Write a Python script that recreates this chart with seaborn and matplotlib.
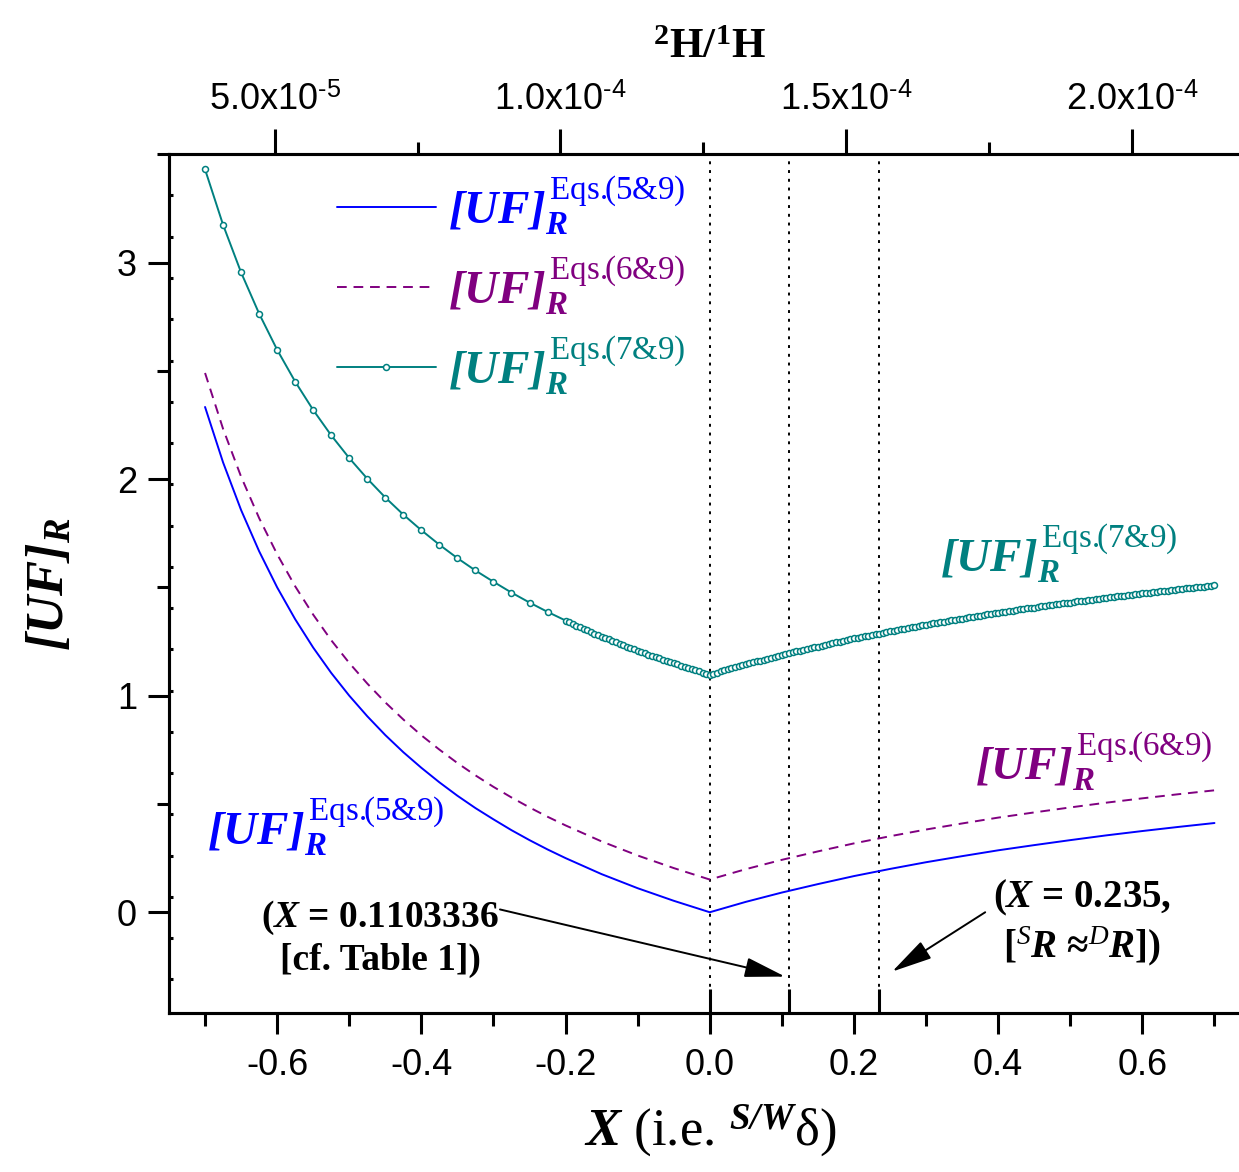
import numpy as np
import seaborn as sns
import matplotlib.pyplot as plt
from matplotlib.ticker import MultipleLocator, FixedLocator, FuncFormatter

# X (i.e. S/W delta) grid of the two plain curves
x_line = [-0.700, -0.675, -0.650, -0.625, -0.600, -0.575, -0.550, -0.525, -0.500, -0.475,
          -0.450, -0.425, -0.400, -0.375, -0.350, -0.325, -0.300, -0.275, -0.250, -0.225,
          -0.200, -0.150, -0.100, -0.050, 0.000, 0.050, 0.100, 0.150, 0.200, 0.250,
          0.300, 0.350, 0.400, 0.450, 0.500, 0.550, 0.600, 0.650, 0.700]

# [UF]_R from Eqs.(5&9)
uf_eq5 = [2.333, 2.077, 1.857, 1.667, 1.500, 1.353, 1.222, 1.105, 1.000, 0.905,
          0.818, 0.739, 0.667, 0.600, 0.538, 0.481, 0.429, 0.379, 0.333, 0.290,
          0.250, 0.176, 0.111, 0.053, 0.000, 0.048, 0.091, 0.130, 0.167, 0.200,
          0.231, 0.259, 0.286, 0.310, 0.333, 0.355, 0.375, 0.394, 0.412]

# [UF]_R from Eqs.(6&9)
uf_eq6 = [2.490, 2.232, 2.011, 1.820, 1.653, 1.505, 1.374, 1.256, 1.151, 1.056,
          0.969, 0.890, 0.817, 0.751, 0.689, 0.632, 0.579, 0.530, 0.484, 0.441,
          0.401, 0.327, 0.262, 0.204, 0.151, 0.199, 0.242, 0.281, 0.318, 0.351,
          0.382, 0.410, 0.437, 0.461, 0.484, 0.506, 0.526, 0.545, 0.563]

# Eqs.(7&9) points (coarse on the far left, dense from -0.2 on)
x_eq7 = ([-0.700, -0.675, -0.650, -0.625, -0.600, -0.575, -0.550, -0.525, -0.500, -0.475,
          -0.450, -0.425, -0.400, -0.375, -0.350, -0.325, -0.300, -0.275, -0.250, -0.225]
         + [round(-0.200 + 0.005 * i, 3) for i in range(181)])

uf_eq7 = [3.430, 3.174, 2.954, 2.764, 2.597, 2.450, 2.319, 2.202, 2.097, 2.002,
          1.915, 1.836, 1.764, 1.697, 1.635, 1.578, 1.526, 1.476, 1.430, 1.387,
          # -0.200 ... 0.000
          1.347, 1.339, 1.332, 1.324, 1.317, 1.309, 1.302, 1.295, 1.287, 1.280,
          1.273, 1.267, 1.260, 1.253, 1.246, 1.240, 1.233, 1.227, 1.221, 1.214,
          1.208, 1.202, 1.196, 1.190, 1.184, 1.178, 1.172, 1.167, 1.161, 1.155,
          1.150, 1.144, 1.139, 1.133, 1.128, 1.123, 1.117, 1.112, 1.107, 1.102,
          1.097,
          # 0.005 ... 0.700
          1.102, 1.107, 1.112, 1.117, 1.121, 1.126, 1.131, 1.135, 1.140, 1.145,
          1.149, 1.154, 1.158, 1.162, 1.167, 1.171, 1.175, 1.180, 1.184, 1.188,
          1.192, 1.196, 1.200, 1.204, 1.208, 1.212, 1.216, 1.220, 1.224, 1.227,
          1.231, 1.235, 1.239, 1.242, 1.246, 1.250, 1.253, 1.257, 1.260, 1.264,
          1.267, 1.271, 1.274, 1.277, 1.281, 1.284, 1.287, 1.291, 1.294, 1.297,
          1.300, 1.303, 1.306, 1.310, 1.313, 1.316, 1.319, 1.322, 1.325, 1.328,
          1.331, 1.334, 1.337, 1.339, 1.342, 1.345, 1.348, 1.351, 1.354, 1.356,
          1.359, 1.362, 1.364, 1.367, 1.370, 1.372, 1.375, 1.378, 1.380, 1.383,
          1.385, 1.388, 1.390, 1.393, 1.395, 1.398, 1.400, 1.403, 1.405, 1.407,
          1.410, 1.412, 1.414, 1.417, 1.419, 1.421, 1.424, 1.426, 1.428, 1.430,
          1.433, 1.435, 1.437, 1.439, 1.441, 1.443, 1.446, 1.448, 1.450, 1.452,
          1.454, 1.456, 1.458, 1.460, 1.462, 1.464, 1.466, 1.468, 1.470, 1.472,
          1.474, 1.476, 1.478, 1.480, 1.482, 1.484, 1.485, 1.487, 1.489, 1.491,
          1.493, 1.495, 1.496, 1.498, 1.500, 1.502, 1.504, 1.505, 1.507, 1.509]

marked_x = [0.0, 0.1103336, 0.235]
ratio_ticks = [5.0e-5, 1.0e-4, 1.5e-4, 2.0e-4]
r_ref = 1.5576e-4 / 1.235   # 2H/1H at X = 0 (X = 0.235 is VSMOW)

BLUE, PURPLE, TEAL = '#0000ff', '#800080', '#008080'
SERIF = 'Liberation Serif'

sns.set_theme(style='ticks')
plt.rcParams['font.family'] = ['Liberation Sans', 'DejaVu Sans']
plt.rcParams.update({
    'axes.unicode_minus': False,
    'mathtext.fontset': 'custom',
    'mathtext.rm': SERIF,
    'mathtext.it': SERIF + ':italic',
    'mathtext.bf': SERIF + ':bold',
    'mathtext.bfit': SERIF + ':italic:bold',
    'axes.linewidth': 2.2,
    'axes.edgecolor': 'black',
    'text.color': 'black',
    'axes.labelcolor': 'black',
    'xtick.color': 'black',
    'ytick.color': 'black',
})

fig = plt.figure(figsize=(12.39, 11.72), dpi=100)
ax = fig.add_axes([0.1364, 0.1357, 0.8729, 0.7327])


def uf_label(eqs):
    return (r'$\mathbfit{[UF]}_{\mathbfit{R}}^{\,\mathrm{Eqs.}\!\!\mathrm{(' + eqs
            + r')}}$')


sns.lineplot(x=x_line, y=uf_eq5, ax=ax, color=BLUE, lw=1.4, label=uf_label('5&9'))
sns.lineplot(x=x_line, y=uf_eq6, ax=ax, color=PURPLE, lw=1.4, linestyle=(0, (5, 3.5)),
             label=uf_label('6&9'))
sns.lineplot(x=x_eq7, y=uf_eq7, ax=ax, color=TEAL, lw=1.4, marker='o', markersize=4.3,
             markerfacecolor='white', markeredgecolor=TEAL, markeredgewidth=1.1,
             label=uf_label('7&9'))

for xv in marked_x:
    ax.axvline(xv, color='black', lw=1.4, ls=(0, (1.5, 3)), zorder=1)

ax.set_xlim(-0.75, 0.75)
ax.set_ylim(-0.465, 3.5)
ax.spines['right'].set_visible(False)

ax.xaxis.set_major_locator(MultipleLocator(0.2))
ax.xaxis.set_minor_locator(MultipleLocator(0.1))
ax.yaxis.set_major_locator(MultipleLocator(1))
ax.yaxis.set_minor_locator(MultipleLocator(0.5))
ax.xaxis.set_major_formatter(FuncFormatter(lambda v, p: f'{v:.1f}'))
ax.yaxis.set_major_formatter(FuncFormatter(lambda v, p: f'{v:.0f}'))
ax.tick_params(which='major', direction='out', length=15, width=2.2, labelsize=26,
               color='black', labelcolor='black')
ax.tick_params(which='minor', direction='out', length=9, width=2.2, color='black')
ax.tick_params(axis='x', which='major', pad=10)
ax.tick_params(axis='y', which='major', pad=8)
ax.tick_params(top=False, right=False, which='both')

# small inner ticks along the left axis
sec_y = ax.secondary_yaxis('left')
sec_y.set_yticks(np.arange(-0.31, 3.4, 0.1905))
sec_y.tick_params(direction='in', length=3, width=2.2, labelleft=False, color='black')

# inner ticks under the marked X values
sec_x = ax.secondary_xaxis('bottom')
sec_x.set_xticks(marked_x)
sec_x.tick_params(direction='in', length=17, width=2.2, labelbottom=False, color='black')


def ratio_fmt(v, pos):
    if v <= 0:
        return ''
    e = int(np.floor(np.log10(v) + 1e-9))
    m = v / 10 ** e
    return f'{m:.1f}x10' + r'$^{\mathregular{' + '\u2010' + str(abs(e)) + '}}$'


top = ax.secondary_xaxis('top', functions=(lambda x: r_ref * (1 + x), lambda r: r / r_ref - 1))
top.xaxis.set_major_locator(FixedLocator(ratio_ticks))
top.xaxis.set_minor_locator(FixedLocator([7.5e-5, 1.25e-4, 1.75e-4]))
top.xaxis.set_major_formatter(FuncFormatter(ratio_fmt))
top.tick_params(which='major', direction='out', length=18, width=2.2, labelsize=26, pad=8,
                color='black', labelcolor='black')
top.tick_params(which='minor', direction='out', length=9, width=2.2, color='black')
top.set_xlabel(r'$^{\mathbf{2}}$H/$^{\mathbf{1}}$H', family=SERIF, fontweight='bold',
               fontsize=31, labelpad=18)

for a in (ax, sec_y, sec_x, top):
    for sp in a.spines.values():
        sp.set_linewidth(2.2)

ax.set_xlabel(r'$\mathbfit{X}$ (i.e. ${}^{\mathbfit{S/W}}$δ)', family=SERIF, fontsize=38,
              labelpad=14)
ax.set_ylabel(r'$\mathbfit{[UF]}_{\mathbfit{R}}$', family=SERIF, fontsize=38, labelpad=30)

leg = ax.legend(loc='upper left', bbox_to_anchor=(0.155, 0.977), frameon=False, fontsize=34,
                handlelength=2.1, handletextpad=0.25, labelspacing=0.37, borderaxespad=0,
                borderpad=0, numpoints=1)
for text, line in zip(leg.get_texts(), leg.get_lines()):
    text.set_color(line.get_color())

# labels next to the curves
ax.text(0.32, 1.57, uf_label('7&9'), color=TEAL, fontsize=34, ha='left', va='baseline')
ax.text(0.368, 0.61, uf_label('6&9'), color=PURPLE, fontsize=34, ha='left', va='baseline')
ax.text(-0.697, 0.31, uf_label('5&9'), color=BLUE, fontsize=34, ha='left', va='baseline')

# annotations for the marked X values
ax.text(-0.457, -0.12, '(' + r'$\mathbfit{X}$' + ' = 0.1103336\n[cf. Table 1])',
        family=SERIF, fontweight='bold', fontsize=27, ha='center', va='center',
        linespacing=1.2)
ax.annotate('', xy=(0.1044, -0.297), xytext=(-0.291, 0.013),
            arrowprops=dict(arrowstyle='-|>,head_length=0.9,head_width=0.22', color='black',
                            lw=1.4, mutation_scale=28, shrinkA=0, shrinkB=0))
ax.text(0.516, -0.05, '(' + r'$\mathbfit{X}$' + ' = 0.235,\n['
        + r'$^{\mathit{S}}\mathbfit{R}$' + ' ≈' + r'$^{\mathit{D}}\mathbfit{R}$' + '])',
        family=SERIF, fontweight='bold', fontsize=28, ha='center', va='center',
        linespacing=1.2)
ax.annotate('', xy=(0.253, -0.274), xytext=(0.382, 0.0),
            arrowprops=dict(arrowstyle='-|>,head_length=0.9,head_width=0.22', color='black',
                            lw=1.4, mutation_scale=28, shrinkA=0, shrinkB=0))

fig.savefig('out.png', dpi=100)
plt.close('all')
